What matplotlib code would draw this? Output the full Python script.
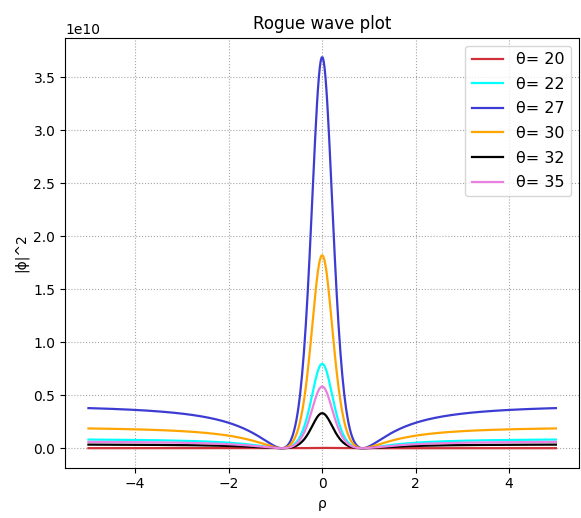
import numpy as np
import matplotlib
matplotlib.use("Agg")
import matplotlib.pyplot as plt

# theta values and peak heights of |phi|^2 at rho = 0 (in 1e10)
thetas = [20, 22, 27, 30, 32, 35]
peaks = [0.003, 0.796, 3.69, 1.82, 0.33, 0.582]
colors = ['#d03038', 'cyan', '#3c3cd2', 'orange', 'black', '#ec80e0']

rho = np.linspace(-5, 5, 500)

fig, ax = plt.subplots(figsize=(5.81, 5.18), dpi=100)
fig.subplots_adjust(left=0.112, right=0.997, top=0.927, bottom=0.097)

for th, pk, c in zip(thetas, peaks, colors):
    # Peregrine-type profile at t = 0, peak = 9 * background
    amp = pk * 1e10 / 9.0
    phi2 = amp * (1 - 4 / (1 + 4 * rho**2))**2
    ax.plot(rho, phi2, color=c, lw=1.6, label=f'θ= {th}')

ax.set_title('Rogue wave plot')
ax.set_xlabel('ρ')
ax.set_ylabel('|ϕ|^2')
ax.grid(True, linestyle=':', color='gray', alpha=0.7)
ax.legend(loc='upper right', fontsize=11.5, labelspacing=0.6)

fig.savefig('out.png', dpi=100)
